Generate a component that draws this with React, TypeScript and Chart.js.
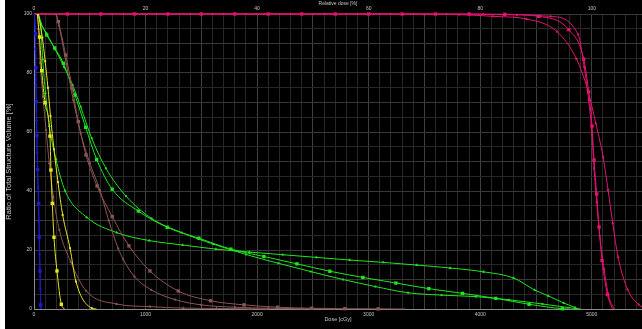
import React, { useEffect, useRef } from 'react';
import { Chart, registerables } from 'chart.js';

Chart.register(...registerables);

// Dose [cGy], Volume [%]
const M_SQ = [[0,100],[300,100],[600,100],[900,100],[1200,100],[1500,100],[1800,100],[2100,100],[2400,100],[2700,100],[3000,100],[3300,100],[3600,100],[3900,100],[4220,99.9],[4525,99.2],[4794,94.7],[4928,84.7],[4972,73.6],[5002,62],[5020,50.5],[5044,39],[5065,27.8],[5092,16.4],[5140,5],[5185,0]];
const M_TRI = [[0,100],[500,100],[800,100],[1100,100],[1400,100],[1700,100],[2000,100],[2300,100],[2600,100],[2900,100],[3200,100],[3500,99.9],[3811,99.8],[4115,99.2],[4415,98.3],[4689,94],[4862,84.8],[4964,74.2],[5036,62.9],[5101,51.6],[5146,40.3],[5188,29],[5235,17.7],[5320,6.7],[5420,1.5],[5500,0]];
const M_DOT = [[0,100],[400,100],[700,100],[1000,100],[1300,100],[1600,100],[1900,100],[2200,100],[2500,100],[2800,100],[3100,100],[3400,100],[3700,100],[4026,99.9],[4330,99.7],[4630,99.2],[4877,93.1],[4932,82],[4972,70.8],[5002,59.2],[5020,47.7],[5044,36.2],[5071,24.8],[5110,13.6],[5150,4.5],[5200,0]];

const G_SQ = [[25,100],[114,92.9],[185,88.5],[263,83.3],[367,72.5],[463,61.6],[562,50.7],[701,40.6],[935,33.2],[1194,27.7],[1478,24],[1765,20.3],[2061,17.8],[2357,15.3],[2652,12.8],[2948,10.7],[3244,8.8],[3539,6.9],[3841,5.3],[4140,3.6],[4438,1.6],[4737,0.1],[4800,0]];
const G_TRI = [[35,100],[60,96.3],[78,84.6],[103,73.3],[137,62],[197,50.8],[278,40.1],[472,31.1],[741,25.9],[1033,23.2],[1332,21.7],[1631,20.3],[1930,19.3],[2230,18.4],[2530,17.5],[2830,16.6],[3130,15.8],[3430,14.9],[3730,13.9],[4030,12.6],[4300,10.5],[4489,6.4],[4608,4.5],[4750,2],[4850,0.5],[4880,0]];
const G_DOT = [[40,100],[60,97],[110,93.5],[190,88],[270,82],[345,76],[418,68.6],[517,57.9],[645,47.7],[824,38.3],[1054,30.7],[1323,25.9],[1607,22],[1900,18.5],[2190,15.5],[2480,12.7],[2770,10],[3060,7.6],[3354,5.5],[3653,4.7],[3960,4.2],[4259,3.1],[4558,1.7],[4847,0.2],[4900,0]];

const B_SQ = [[195,100],[218,97.4],[284,86.1],[343,74.8],[397,63.5],[466,52.2],[565,41.7],[701,31.3],[851,21.4],[1039,12.9],[1293,6.1],[1583,2.8],[1882,1.4],[2183,0.6],[2488,0.25],[2787,0.1],[3085,0.05],[3330,0]];
const B_TRI = [[30,100],[40,95],[55,83.4],[80,72],[108,60.7],[137,49.4],[173,38.1],[227,26.8],[329,16],[466,6.2],[741,1.7],[1039,0.8],[1338,0.3],[1637,0.2],[1935,0.05],[2100,0]];
const B_DOT = [[200,100],[225,96],[290,83],[352,70.8],[418,59.6],[500,49.5],[591,40.3],[670,30],[755,20.5],[800,16.8],[900,11],[1050,6.5],[1263,3.2],[1500,1.4],[1800,0.6],[2100,0.25],[2400,0.1],[2700,0]];

const Y_SQ = [[30,100],[49,92.2],[69,80.8],[99,69.9],[143,58.6],[152,47.1],[164,35.8],[179,24.3],[206,12.9],[245,1.6],[275,0]];
const Y_DOT = [[40,100],[75,92],[100,84],[125,75],[148,65.4],[179,54.2],[215,43],[257,31.9],[323,20.6],[376,9.3],[517,0.3],[560,0]];

const BL_SQ = [[5,100],[14,93.3],[18,81.8],[22,70.3],[27,58.8],[33,47.3],[42,35.8],[47,24.3],[54,12.9],[60,1.4],[62,0]];
const BL_TRI = [[3,100],[12,88],[16,76],[21,64],[28,53],[36,41],[44,30],[50,18.6],[57,7],[61,0]];

const X_LABEL_STEP = 1000;
const TOP_LABEL_STEP = 20;
const Y_LABEL_STEP = 20;

const MAG = '#e3136f';
const GREEN = '#1fe41f';
const BROWN = '#8a5552';
const YELLOW = '#e6e621';
const BLUE = '#1a1ad2';

const FONT = 'Liberation Sans, Arial, sans-serif';
const TXT = '#c4c4c4';

function ds(data: number[][], color: string, style: string, r: number) {
  return {
    data: data.map(([x, y]) => ({ x, y })),
    borderColor: color,
    backgroundColor: color,
    borderWidth: 1,
    pointStyle: style,
    pointRadius: (ctx: any) => {
      const n = ctx.dataset.data.length;
      return ctx.dataIndex === 0 || ctx.dataIndex === n - 1 ? 0 : r;
    },
    pointBackgroundColor: color,
    pointBorderWidth: 0,
    pointBorderColor: color,
    cubicInterpolationMode: 'monotone',
    fill: false,
    clip: false,
  };
}

export default function App() {
  const ref = useRef<HTMLCanvasElement>(null);
  useEffect(() => {
    if (!ref.current) return;
    const chart = new Chart(ref.current, {
      type: 'line',
      data: {
        datasets: [
          ds(BL_TRI, BLUE, 'triangle', 1.8),
          ds(BL_SQ, BLUE, 'rect', 2.4),
          ds(Y_DOT, YELLOW, 'rect', 1.4),
          ds(Y_SQ, YELLOW, 'rect', 2.4),
          ds(B_TRI, BROWN, 'triangle', 1.8),
          ds(B_DOT, BROWN, 'rect', 1.4),
          ds(B_SQ, BROWN, 'rect', 2.4),
          ds(G_TRI, GREEN, 'triangle', 1.8),
          ds(G_DOT, GREEN, 'rect', 1.4),
          ds(G_SQ, GREEN, 'rect', 2.4),
          ds(M_TRI, MAG, 'triangle', 1.8),
          ds(M_DOT, MAG, 'rect', 1.4),
          ds(M_SQ, MAG, 'rect', 2.4),
        ] as any,
      },
      options: {
        animation: false,
        responsive: false,
        devicePixelRatio: 1,
        layout: { padding: 0 },
        plugins: { legend: { display: false }, tooltip: { enabled: false } },
        scales: {
          x: {
            type: 'linear',
            position: 'bottom',
            min: 0,
            max: 5450,
            afterFit: (s: any) => { s.height = 20; },
            border: { display: true, color: '#8c8c8c', width: 1 },
            grid: {
              color: (c: any) => (c.tick && c.tick.value % 500 === 0 ? '#404040' : '#282828'),
              drawTicks: false,
              lineWidth: 1,
            },
            ticks: {
              stepSize: 100,
              autoSkip: false,
              includeBounds: false,
              maxRotation: 0,
              color: TXT,
              padding: 3,
              font: { size: 5, family: FONT },
              callback: (v: any) => (v % X_LABEL_STEP === 0 ? String(v) : ''),
            },
            title: {
              display: true,
              text: 'Dose [cGy]',
              color: TXT,
              font: { size: 5.5, family: FONT },
              padding: { top: 0, bottom: 6.5 },
            },
          },
          x2: {
            type: 'linear',
            position: 'top',
            min: 0,
            max: 109,
            afterFit: (s: any) => { s.height = 14; },
            border: { display: false },
            grid: { display: false, drawTicks: false },
            ticks: {
              stepSize: 20,
              autoSkip: false,
              includeBounds: false,
              maxRotation: 0,
              color: TXT,
              padding: 2,
              font: { size: 5, family: FONT },
              callback: (v: any) => (v % TOP_LABEL_STEP === 0 ? String(v) : ''),
            },
            title: {
              display: true,
              text: 'Relative dose [%]',
              color: TXT,
              font: { size: 5, family: FONT },
              padding: { top: 1, bottom: 0 },
            },
          },
          y: {
            type: 'linear',
            min: 0,
            max: 100,
            afterFit: (s: any) => { s.width = 29; },
            border: { display: true, color: '#8c8c8c', width: 1 },
            grid: {
              color: (c: any) => (c.tick && c.tick.value % 10 === 0 ? '#383838' : '#282828'),
              drawTicks: false,
              lineWidth: 1,
            },
            ticks: {
              stepSize: 5,
              autoSkip: false,
              color: TXT,
              padding: 2,
              font: { size: 5, family: FONT },
              callback: (v: any) => (v % Y_LABEL_STEP === 0 ? String(v) : ''),
            },
            title: {
              display: true,
              text: 'Ratio of Total Structure Volume [%]',
              color: TXT,
              font: { size: 7.5, family: FONT },
              padding: { top: -1, bottom: 0 },
            },
          },
        },
      } as any,
    });
    return () => chart.destroy();
  }, []);
  return (
    <div style={{ position: 'fixed', left: 5, top: 0, width: 637, height: 329, background: '#000' }}>
      <canvas ref={ref} width={637} height={329} style={{ display: 'block', background: '#000' }} />
    </div>
  );
}
